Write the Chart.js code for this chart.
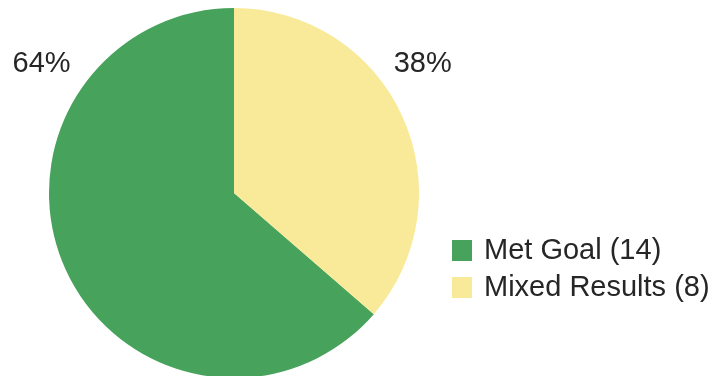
<!DOCTYPE html>
<html lang="en">
<head>
<meta charset="UTF-8">
<title>Goal results</title>
<script src="https://cdn.jsdelivr.net/npm/chart.js"></script>
<style>
  html, body { margin: 0; padding: 0; background: #fff; overflow: hidden; }
  #wrap { position: relative; width: 720px; height: 376px; overflow: hidden; }
  canvas { display: block; }
</style>
</head>
<body>
<div id="wrap">
  <canvas id="pie" width="720" height="390"></canvas>
</div>
<script>
// data
const categorias = ['Met Goal', 'Mixed Results'];
const contagens = [14, 8];
const rotulosPct = ['64%', '38%'];
const cores = ['#47a35b', '#f8ea98'];

const total = contagens.reduce((a, b) => a + b, 0);
const fonte = '29px "Liberation Sans", Arial, sans-serif';

// percent labels up at the top corners + legend on the right
const extras = {
  id: 'extras',
  afterDraw(chart) {
    const ctx = chart.ctx;
    const arc = chart.getDatasetMeta(0).data[0];
    const cx = arc.x, cy = arc.y, r = arc.outerRadius;
    ctx.save();
    ctx.font = fonte;
    ctx.fillStyle = '#262626';
    ctx.textAlign = 'center';
    ctx.textBaseline = 'middle';
    ctx.fillText(rotulosPct[0], cx - r * 1.04, cy - r * 0.70);
    ctx.fillText(rotulosPct[1], cx + r * 1.02, cy - r * 0.70);

    // legend
    ctx.textAlign = 'left';
    categorias.forEach((nome, i) => {
      const y = 250 + i * 37;
      ctx.fillStyle = cores[i];
      ctx.fillRect(452, y - 10, 20, 21);
      ctx.fillStyle = '#262626';
      ctx.fillText(`${nome} (${contagens[i]})`, 484, y + 1);
    });
    ctx.restore();
  }
};

new Chart(document.getElementById('pie'), {
  type: 'pie',
  data: {
    labels: categorias,
    datasets: [{
      data: contagens,
      backgroundColor: cores,
      borderWidth: 0
    }]
  },
  options: {
    responsive: false,
    animation: false,
    // green slice starts where the yellow one ends
    rotation: contagens[1] / total * 360,
    layout: { padding: { left: 49, right: 301, top: 8, bottom: 12 } },
    plugins: {
      legend: { display: false },
      tooltip: { enabled: false }
    }
  },
  plugins: [extras]
});
</script>
</body>
</html>
